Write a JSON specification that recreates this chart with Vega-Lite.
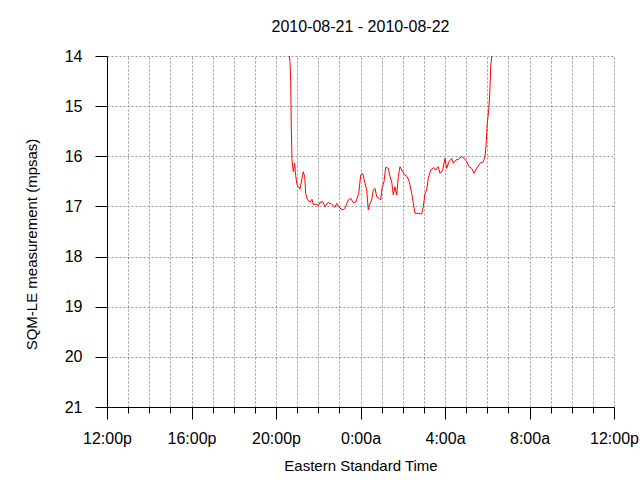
{
  "$schema": "https://vega.github.io/schema/vega-lite/v6.json",
  "width": 507,
  "height": 351,
  "autosize": "none",
  "padding": {"left": 107, "top": 56, "right": 26, "bottom": 73},
  "background": "white",
  "title": {
    "text": "2010-08-21 - 2010-08-22",
    "font": "Liberation Sans",
    "fontSize": 16,
    "fontWeight": "normal",
    "color": "black",
    "frame": "group",
    "anchor": "middle",
    "baseline": "middle",
    "offset": 5
  },
  "config": {
    "view": {"stroke": null},
    "axis": {
      "labelFont": "Liberation Sans",
      "titleFont": "Liberation Sans",
      "labelFontSize": 16,
      "titleFontSize": 15,
      "titleFontWeight": "normal",
      "labelColor": "black",
      "titleColor": "black",
      "domainColor": "black",
      "tickColor": "black",
      "gridColor": "#999999",
      "gridDash": [2, 2],
      "gridOpacity": 1,
      "domainWidth": 1,
      "tickWidth": 1
    }
  },
  "data": {
    "values": [
      {"h": 8.630, "sqm": 14.00},
      {"h": 8.663, "sqm": 14.114},
      {"h": 8.696, "sqm": 14.493},
      {"h": 8.724, "sqm": 15.396},
      {"h": 8.757, "sqm": 16.060},
      {"h": 8.819, "sqm": 16.308},
      {"h": 8.885, "sqm": 16.140},
      {"h": 8.914, "sqm": 16.308},
      {"h": 8.980, "sqm": 16.539},
      {"h": 9.041, "sqm": 16.607},
      {"h": 9.136, "sqm": 16.653},
      {"h": 9.217, "sqm": 16.473},
      {"h": 9.292, "sqm": 16.308},
      {"h": 9.359, "sqm": 16.407},
      {"h": 9.406, "sqm": 16.738},
      {"h": 9.482, "sqm": 16.858},
      {"h": 9.609, "sqm": 16.918},
      {"h": 9.704, "sqm": 16.858},
      {"h": 9.766, "sqm": 16.958},
      {"h": 9.927, "sqm": 16.958},
      {"h": 10.002, "sqm": 16.986},
      {"h": 10.083, "sqm": 16.918},
      {"h": 10.211, "sqm": 16.906},
      {"h": 10.320, "sqm": 17.006},
      {"h": 10.476, "sqm": 16.918},
      {"h": 10.637, "sqm": 16.958},
      {"h": 10.793, "sqm": 17.018},
      {"h": 10.873, "sqm": 16.938},
      {"h": 11.030, "sqm": 17.037},
      {"h": 11.186, "sqm": 17.071},
      {"h": 11.266, "sqm": 17.037},
      {"h": 11.422, "sqm": 16.872},
      {"h": 11.536, "sqm": 16.838},
      {"h": 11.659, "sqm": 16.926},
      {"h": 11.787, "sqm": 16.906},
      {"h": 11.915, "sqm": 16.738},
      {"h": 12.009, "sqm": 16.373},
      {"h": 12.104, "sqm": 16.339},
      {"h": 12.213, "sqm": 16.539},
      {"h": 12.294, "sqm": 16.673},
      {"h": 12.369, "sqm": 17.071},
      {"h": 12.450, "sqm": 16.938},
      {"h": 12.530, "sqm": 16.872},
      {"h": 12.606, "sqm": 16.673},
      {"h": 12.686, "sqm": 16.639},
      {"h": 12.767, "sqm": 16.806},
      {"h": 12.876, "sqm": 16.838},
      {"h": 12.956, "sqm": 16.872},
      {"h": 13.018, "sqm": 16.639},
      {"h": 13.112, "sqm": 16.507},
      {"h": 13.193, "sqm": 16.220},
      {"h": 13.316, "sqm": 16.240},
      {"h": 13.396, "sqm": 16.407},
      {"h": 13.477, "sqm": 16.507},
      {"h": 13.553, "sqm": 16.772},
      {"h": 13.633, "sqm": 16.607},
      {"h": 13.714, "sqm": 16.772},
      {"h": 13.790, "sqm": 16.407},
      {"h": 13.870, "sqm": 16.208},
      {"h": 13.998, "sqm": 16.308},
      {"h": 14.107, "sqm": 16.373},
      {"h": 14.215, "sqm": 16.407},
      {"h": 14.310, "sqm": 16.507},
      {"h": 14.424, "sqm": 16.738},
      {"h": 14.499, "sqm": 16.938},
      {"h": 14.580, "sqm": 17.137},
      {"h": 14.736, "sqm": 17.137},
      {"h": 14.897, "sqm": 17.151},
      {"h": 14.973, "sqm": 17.006},
      {"h": 15.053, "sqm": 16.738},
      {"h": 15.134, "sqm": 16.673},
      {"h": 15.210, "sqm": 16.439},
      {"h": 15.323, "sqm": 16.274},
      {"h": 15.446, "sqm": 16.228},
      {"h": 15.574, "sqm": 16.274},
      {"h": 15.683, "sqm": 16.208},
      {"h": 15.763, "sqm": 16.339},
      {"h": 15.891, "sqm": 16.274},
      {"h": 16.000, "sqm": 16.040},
      {"h": 16.080, "sqm": 16.240},
      {"h": 16.189, "sqm": 16.108},
      {"h": 16.317, "sqm": 16.040},
      {"h": 16.393, "sqm": 16.140},
      {"h": 16.521, "sqm": 16.074},
      {"h": 16.630, "sqm": 16.060},
      {"h": 16.791, "sqm": 16.008},
      {"h": 16.914, "sqm": 16.040},
      {"h": 17.027, "sqm": 16.108},
      {"h": 17.136, "sqm": 16.208},
      {"h": 17.264, "sqm": 16.240},
      {"h": 17.373, "sqm": 16.339},
      {"h": 17.501, "sqm": 16.240},
      {"h": 17.657, "sqm": 16.140},
      {"h": 17.814, "sqm": 16.108},
      {"h": 17.893, "sqm": 16.008},
      {"h": 17.941, "sqm": 15.809},
      {"h": 18.002, "sqm": 15.342},
      {"h": 18.069, "sqm": 15.077},
      {"h": 18.116, "sqm": 14.778},
      {"h": 18.164, "sqm": 14.213},
      {"h": 18.211, "sqm": 14.000}
    ]
  },
  "mark": {"type": "line", "color": "#ff0000", "strokeWidth": 1, "clip": true, "interpolate": "linear"},
  "encoding": {
    "x": {
      "field": "h",
      "type": "quantitative",
      "scale": {"domain": [0, 24], "nice": false, "zero": false},
      "axis": {
        "title": "Eastern Standard Time",
        "values": [0,1,2,3,4,5,6,7,8,9,10,11,12,13,14,15,16,17,18,19,20,21,22,23,24],
        "labelExpr": "datum.value % 4 === 0 ? (((datum.value + 12) % 24) + ':00' + (((datum.value + 12) % 24) < 12 ? 'a' : 'p')) : ''",
        "tickSize": {"condition": {"test": "datum.value % 4 === 0", "value": 12}, "value": 6},
        "labelPadding": 11,
        "labelFlush": false,
        "labelOverlap": false,
        "titlePadding": 12,
        "grid": true
      }
    },
    "y": {
      "field": "sqm",
      "type": "quantitative",
      "scale": {"domain": [14, 21], "reverse": true, "nice": false, "zero": false},
      "axis": {
        "title": "SQM-LE measurement (mpsas)",
        "values": [14,15,16,17,18,19,20,21],
        "tickSize": 12,
        "labelPadding": 13,
        "titlePadding": 25,
        "titleY": 188,
        "grid": true
      }
    }
  }
}
